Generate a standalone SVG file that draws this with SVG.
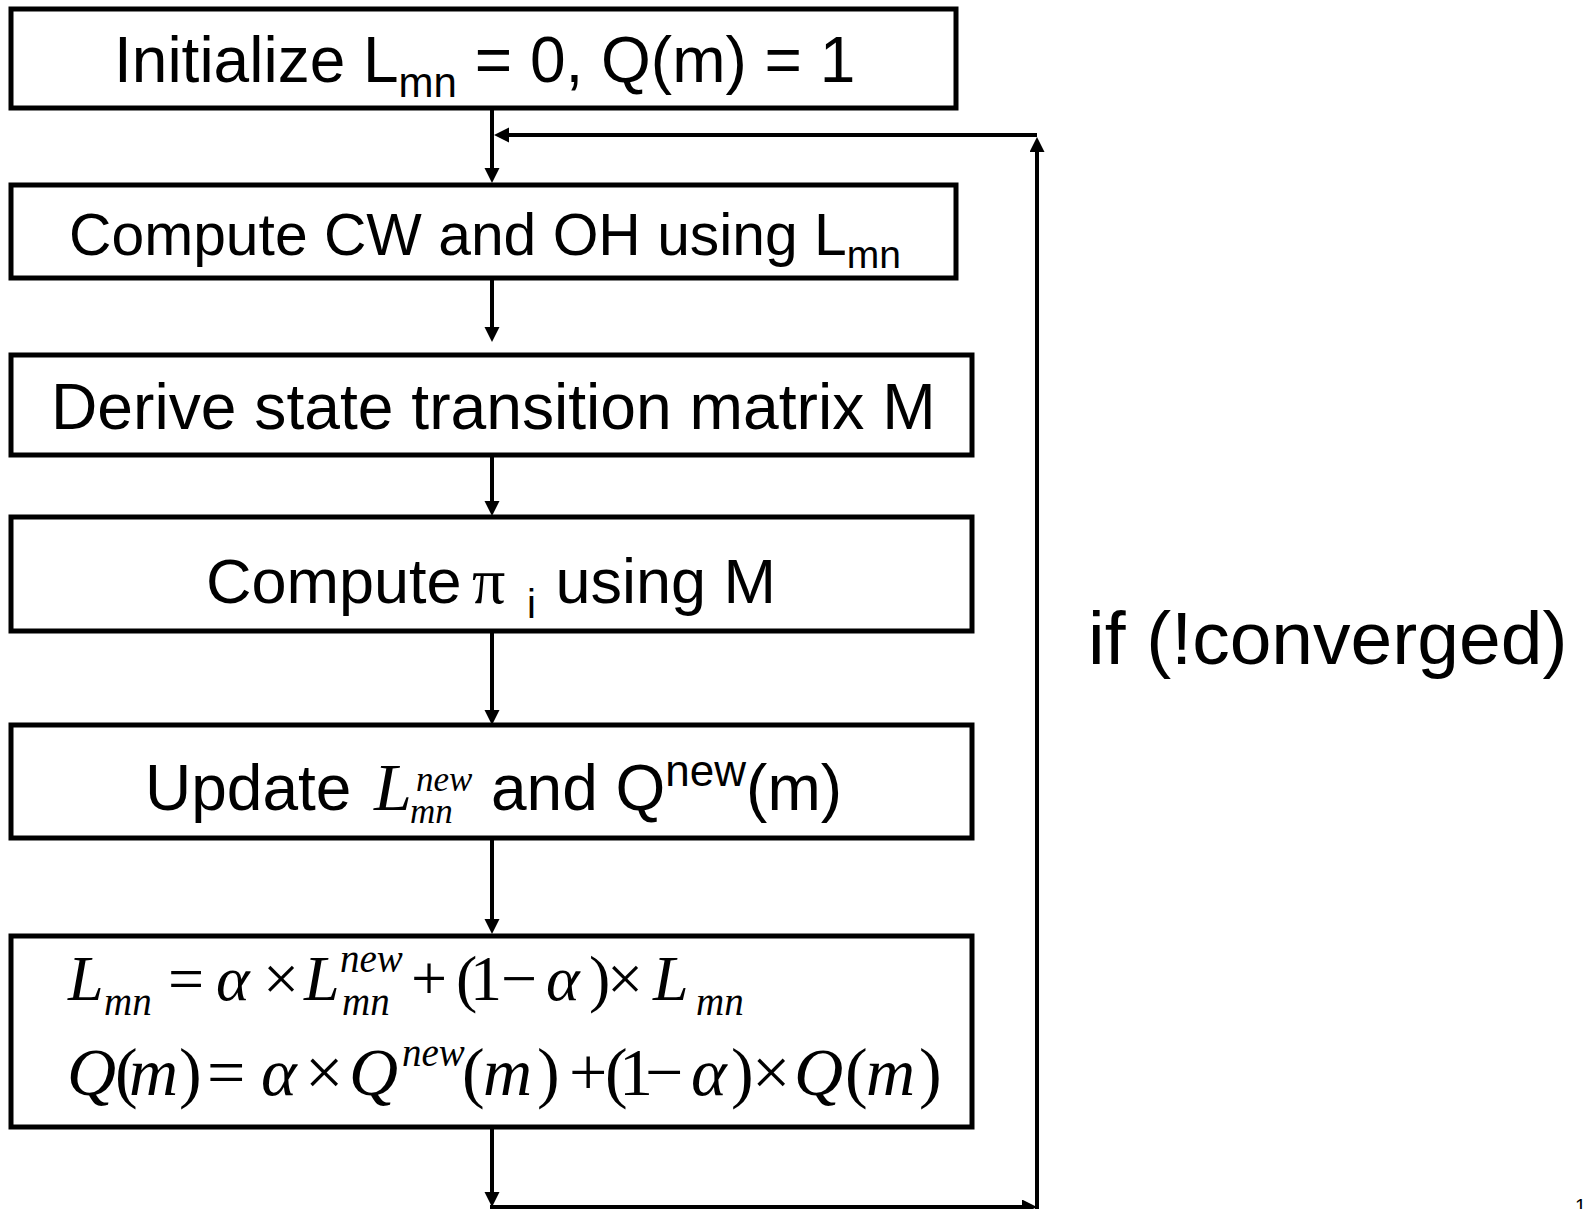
<svg xmlns="http://www.w3.org/2000/svg" width="1585" height="1209" viewBox="0 0 1585 1209">
<style>
.box{fill:#fff;stroke:#000;stroke-width:5}
.t{font-family:"Liberation Sans",Arial,sans-serif;fill:#000}
.m{font-family:"Liberation Serif","Times New Roman",serif;fill:#000;font-size:64px}
.m2{font-size:68px}
.i{font-style:italic}
.sm{font-size:39px}
.s2{font-size:35px}
.c{stroke:#000;stroke-width:4;fill:none}
</style>
<defs>
<marker id="ah" markerUnits="userSpaceOnUse" markerWidth="16" markerHeight="16" refX="9" refY="7.5" orient="auto">
<path d="M0,0 L15,7.5 L0,15 z" fill="#000"/>
</marker>
</defs>
<rect width="1585" height="1209" fill="#fff"/>
<g id="connectors">
<line class="c" x1="492" y1="106" x2="492" y2="177" marker-end="url(#ah)"/>
<line class="c" x1="492" y1="280" x2="492" y2="336" marker-end="url(#ah)"/>
<line class="c" x1="492" y1="441" x2="492" y2="510" marker-end="url(#ah)"/>
<line class="c" x1="492" y1="632" x2="492" y2="719" marker-end="url(#ah)"/>
<line class="c" x1="492" y1="838" x2="492" y2="928" marker-end="url(#ah)"/>
<line class="c" x1="492" y1="1127" x2="492" y2="1201" marker-end="url(#ah)"/>
<line class="c" x1="490" y1="1207" x2="1031" y2="1207" marker-end="url(#ah)"/>
<line class="c" x1="1037" y1="1209" x2="1037" y2="143" marker-end="url(#ah)"/>
<line class="c" x1="1037" y1="135" x2="500" y2="135" marker-end="url(#ah)"/>
</g>
<g id="n1">
<rect class="box" x="11" y="9" width="945" height="99"/>
<text class="t" x="114" y="82" font-size="64">Initialize L<tspan dy="15" font-size="42">mn</tspan><tspan dy="-15"> = 0, Q(m) = 1</tspan></text>
</g>
<g id="n2">
<rect class="box" x="11" y="185" width="945" height="93"/>
<text class="t" x="69" y="255" font-size="58.8">Compute CW and OH using L<tspan dy="13" font-size="39">mn</tspan></text>
</g>
<g id="n3">
<rect class="box" x="11" y="355" width="961" height="100"/>
<text class="t" x="51" y="429" font-size="64.2">Derive state transition matrix M</text>
</g>
<g id="n4">
<rect class="box" x="11" y="517" width="961" height="114"/>
<text class="t" x="206" y="603" font-size="63">Compute<tspan x="472" font-family="Liberation Serif,serif" font-size="66">π</tspan><tspan x="527" y="618" font-size="40">i</tspan><tspan x="538" y="603"> using M</tspan></text>
</g>
<g id="n5">
<rect class="box" x="11" y="725" width="961" height="113"/>
<text class="t" x="145" y="810" font-size="64">Update</text>
<text class="m i m2" x="374" y="810">L</text>
<text class="m i s2" x="416" y="791">new</text>
<text class="m i s2" x="410" y="823">mn</text>
<text class="t" x="491" y="810" font-size="64">and Q<tspan dy="-24" font-size="44">new</tspan><tspan dy="24">(m)</tspan></text>
</g>
<g id="n6">
<rect class="box" x="11" y="936" width="961" height="191"/>
<text class="m"><tspan class="i" x="68" y="1000">L</tspan><tspan class="i sm" x="104" y="1015">mn</tspan><tspan x="168" y="1000">=</tspan><tspan class="i" x="216">α</tspan><tspan x="263">×</tspan><tspan class="i" x="304">L</tspan><tspan class="i sm" x="340" y="972">new</tspan><tspan class="i sm" x="342" y="1015">mn</tspan><tspan x="411" y="1000">+</tspan><tspan x="456">(</tspan><tspan x="470">1</tspan><tspan x="501">−</tspan><tspan class="i" x="546">α</tspan><tspan x="589">)</tspan><tspan x="607">×</tspan><tspan class="i" x="653">L</tspan><tspan class="i sm" x="696" y="1015">mn</tspan></text>
<text class="m m2"><tspan class="i" x="67" y="1095">Q</tspan><tspan x="115">(</tspan><tspan class="i" x="129">m</tspan><tspan x="179">)</tspan><tspan x="207">=</tspan><tspan class="i" x="261">α</tspan><tspan x="305">×</tspan><tspan class="i" x="349">Q</tspan><tspan class="i sm" x="402" y="1066">new</tspan><tspan x="462" y="1095">(</tspan><tspan class="i" x="483">m</tspan><tspan x="537">)</tspan><tspan x="569">+</tspan><tspan x="605">(</tspan><tspan x="619">1</tspan><tspan x="645">−</tspan><tspan class="i" x="691">α</tspan><tspan x="731">)</tspan><tspan x="752">×</tspan><tspan class="i" x="794">Q</tspan><tspan x="845">(</tspan><tspan class="i" x="866">m</tspan><tspan x="919">)</tspan></text>
</g>
<text class="t" x="1088" y="664" font-size="75">if (!converged)</text>
<text class="t" x="1575" y="1213" font-size="20">1</text>
</svg>
